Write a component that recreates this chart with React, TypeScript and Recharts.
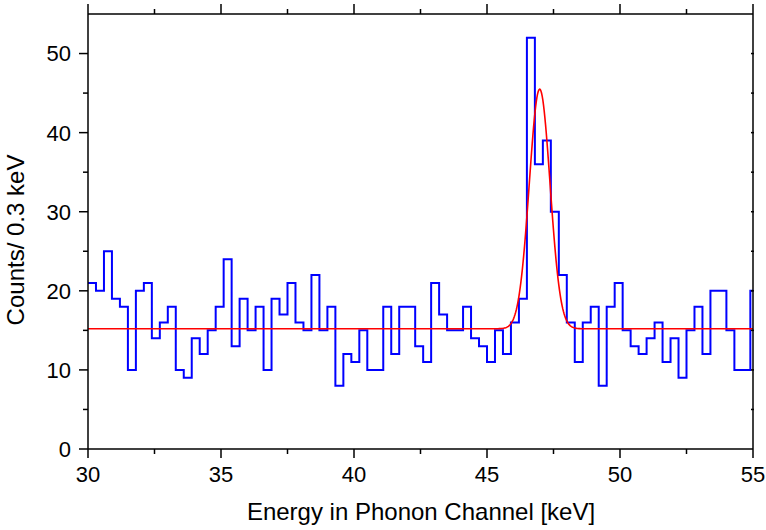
import React from 'react';
import { ComposedChart, Line, XAxis, YAxis } from 'recharts';

// ---- data ----
const BIN_START = 30; // keV
const BIN_WIDTH = 0.3; // keV
const counts = [
  21, 20, 25, 19, 18, 10, 20, 21, 14, 16,
  18, 10, 9, 14, 12, 15, 18, 24, 13, 19,
  15, 18, 10, 19, 17, 21, 16, 15, 22, 15,
  18, 8, 12, 11, 15, 10, 10, 18, 12, 18,
  18, 13, 11, 21, 17, 15, 15, 18, 14, 13,
  11, 15, 12, 16, 19, 52, 36, 39, 30, 22,
  16, 11, 16, 18, 8, 18, 21, 15, 13, 12,
  14, 16, 11, 14, 9, 15, 18, 12, 20, 20,
  15, 10, 10, 20,
];

// Gaussian + constant fit parameters
const FIT_BASELINE = 15.2;
const FIT_AMPLITUDE = 30.3;
const FIT_CENTER = 46.98;
const FIT_SIGMA = 0.39;

const X_MIN = 30;
const X_MAX = 55;
const Y_MIN = 0;
const Y_MAX = 55;
const xTicks = [30, 32.5, 35, 37.5, 40, 42.5, 45, 47.5, 50, 52.5, 55];
const yTicks = [0, 5, 10, 15, 20, 25, 30, 35, 40, 45, 50];
const yTicksRight = [5, 10, 15, 20, 25, 30, 35, 40, 45, 50];
const X_LABEL = 'Energy in Phonon Channel [keV]';
const Y_LABEL = 'Counts/ 0.3 keV';

// ---- derived tables ----
const histData = counts.map((c, i) => ({ x: +(BIN_START + BIN_WIDTH * i).toFixed(3), y: c }));
histData.push({ x: X_MAX, y: counts[counts.length - 1] });

const fitData: { x: number; y: number }[] = [];
for (let i = 0; i <= 1000; i++) {
  const x = X_MIN + ((X_MAX - X_MIN) * i) / 1000;
  const z = (x - FIT_CENTER) / FIT_SIGMA;
  fitData.push({ x, y: FIT_BASELINE + FIT_AMPLITUDE * Math.exp(-0.5 * z * z) });
}

const FONT = '"Liberation Sans", Arial, Helvetica, sans-serif';
const AXIS_STROKE = '#000';
const isMajor = (v: number, step: number) => Math.abs(v / step - Math.round(v / step)) < 1e-6;

const BottomTick = (props: any) => {
  const { x, y, payload } = props;
  const v = payload.value;
  const major = isMajor(v, 5);
  return (
    <g>
      <line x1={x} y1={y} x2={x} y2={y + (major ? 9 : 5)} stroke={AXIS_STROKE} strokeWidth={1.5} />
      {major && (
        <text x={x} y={y + 17} dy="0.71em" textAnchor="middle" fontSize={22} fill="#000" fontFamily={FONT}>
          {v}
        </text>
      )}
    </g>
  );
};

const TopTick = (props: any) => {
  const { x, y, payload } = props;
  const major = isMajor(payload.value, 5);
  return <line x1={x} y1={y} x2={x} y2={y - (major ? 10 : 5)} stroke={AXIS_STROKE} strokeWidth={1.5} />;
};

const LeftTick = (props: any) => {
  const { x, y, payload } = props;
  const v = payload.value;
  const major = isMajor(v, 10);
  return (
    <g>
      <line x1={x} y1={y} x2={x - (major ? 9 : 5)} y2={y} stroke={AXIS_STROKE} strokeWidth={1.5} />
      {major && (
        <text x={x - 17} y={y} dy="0.36em" textAnchor="end" fontSize={22} fill="#000" fontFamily={FONT}>
          {v}
        </text>
      )}
    </g>
  );
};

const RightTick = (props: any) => {
  const { x, y } = props;
  return <line x1={x - 2} y1={y} x2={x + 1} y2={y} stroke={AXIS_STROKE} strokeWidth={1.5} />;
};

const XLabel = () => (
  <text x={421} y={520} textAnchor="middle" fontSize={24} fill="#000" fontFamily={FONT}>
    {X_LABEL}
  </text>
);

const YLabel = () => (
  <text x={24} y={240} textAnchor="middle" fontSize={24} fill="#000" fontFamily={FONT} transform="rotate(-90 24 240)">
    {Y_LABEL}
  </text>
);

export default function App() {
  return (
    <div style={{ position: 'absolute', left: 0, top: 0, background: '#fff' }}>
      <ComposedChart width={766} height={530} margin={{ top: 13, right: 12, bottom: 80, left: 87 }}>
        <XAxis
          xAxisId="bottom"
          dataKey="x"
          type="number"
          domain={[X_MIN, X_MAX]}
          allowDataOverflow
          ticks={xTicks}
          interval={0}
          height={1}
          tickSize={0}
          tickMargin={0}
          tickLine={false}
          tick={<BottomTick />}
          axisLine={{ stroke: AXIS_STROKE, strokeWidth: 1.5 }}
          label={{ value: X_LABEL, content: XLabel }}
        />
        <XAxis
          xAxisId="top"
          orientation="top"
          dataKey="x"
          type="number"
          domain={[X_MIN, X_MAX]}
          allowDataOverflow
          ticks={xTicks}
          interval={0}
          height={1}
          tickSize={0}
          tickMargin={0}
          tickLine={false}
          tick={<TopTick />}
          axisLine={{ stroke: AXIS_STROKE, strokeWidth: 1.5 }}
        />
        <YAxis
          yAxisId="left"
          type="number"
          domain={[Y_MIN, Y_MAX]}
          allowDataOverflow
          ticks={yTicks}
          interval={0}
          width={1}
          tickSize={0}
          tickMargin={0}
          tickLine={false}
          tick={<LeftTick />}
          axisLine={{ stroke: AXIS_STROKE, strokeWidth: 1.5 }}
          label={{ value: Y_LABEL, content: YLabel }}
        />
        <YAxis
          yAxisId="right"
          orientation="right"
          type="number"
          domain={[Y_MIN, Y_MAX]}
          allowDataOverflow
          ticks={yTicksRight}
          interval={0}
          width={1}
          tickSize={0}
          tickMargin={0}
          tickLine={false}
          tick={<RightTick />}
          axisLine={{ stroke: AXIS_STROKE, strokeWidth: 1.5 }}
        />
        <Line
          xAxisId="bottom"
          yAxisId="left"
          data={histData}
          dataKey="y"
          type="stepAfter"
          stroke="#0000ff"
          strokeWidth={2}
          dot={false}
          activeDot={false}
          isAnimationActive={false}
        />
        <Line
          xAxisId="bottom"
          yAxisId="left"
          data={fitData}
          dataKey="y"
          type="linear"
          stroke="#ff0000"
          strokeWidth={1.6}
          dot={false}
          activeDot={false}
          isAnimationActive={false}
        />
      </ComposedChart>
    </div>
  );
}
